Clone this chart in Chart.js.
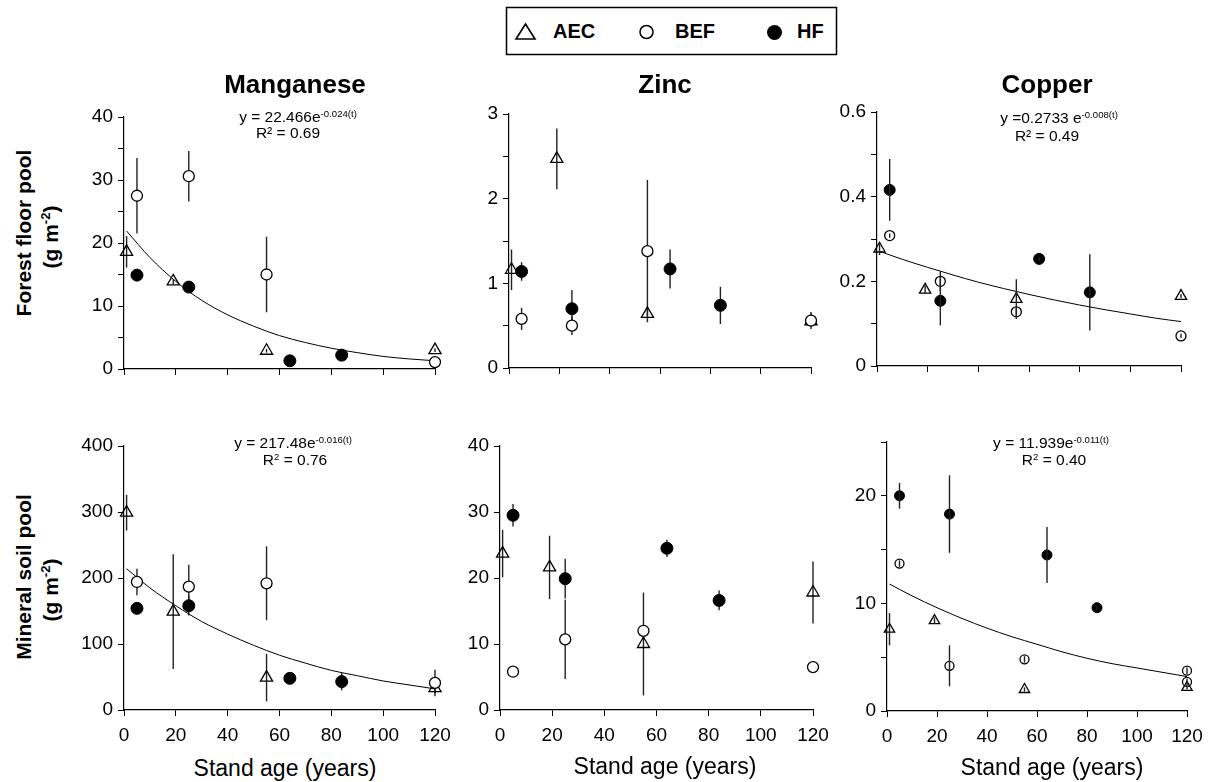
<!DOCTYPE html>
<html>
<head>
<meta charset="utf-8">
<script src="https://cdn.jsdelivr.net/npm/chart.js@4.4.0/dist/chart.umd.min.js"></script>
<style>
  body { margin: 0; width: 1215px; height: 782px; position: relative; overflow: hidden; background: #fff;
         font-family: 'Liberation Sans', Arial, sans-serif; color: #000; }
  canvas.panel { position: absolute; }
  .t { position: absolute; white-space: nowrap; line-height: 1; transform: translateX(-50%); }
  .t sup { font-size: 0.62em; line-height: 0; vertical-align: 0.55em; }
  .v { position: absolute; white-space: nowrap; line-height: 1; font-weight: bold;
       transform: translate(-50%, -50%) rotate(-90deg); }
  .v sup { font-size: 0.62em; line-height: 0; vertical-align: 0.55em; }
</style>
</head>
<body>
<svg width="1215" height="60" style="position:absolute;left:0;top:0" font-family="'Liberation Sans', Arial, sans-serif">
  <rect x="506.5" y="7.5" width="330" height="47" fill="none" stroke="#000" stroke-width="1.5"/>
  <polygon points="516,39 525.5,24 535,39" fill="none" stroke="#000" stroke-width="1.6"/>
  <text x="553" y="38" font-size="20" font-weight="bold">AEC</text>
  <circle cx="646.5" cy="32" r="6.5" fill="none" stroke="#000" stroke-width="1.5"/>
  <text x="675" y="38" font-size="20" font-weight="bold">BEF</text>
  <circle cx="774.5" cy="32.5" r="7.5" fill="#000"/>
  <text x="797" y="38" font-size="20" font-weight="bold">HF</text>
</svg>
<script>
const FONT = "'Liberation Sans', Arial, sans-serif";

// stand ages of the sites (years)
const ageAEC = [1, 19, 55, 120];
const ageBEF = [5, 25, 55, 120];
const ageBEFcu = [5, 25, 55, 120, 120];
const ageHF = [5, 25, 64, 84];
const fitAge = [1, 10, 20, 30, 40, 50, 60, 70, 80, 90, 100, 110, 120];

// Manganese, forest floor (g m-2)
const mnFloorAEC = [18.6, 13.9, 2.9, 3.0];
const mnFloorAECerr = [2.5, 0.4, 0.3, 0.3];
const mnFloorBEF = [27.5, 30.6, 15.0, 1.1];
const mnFloorBEFerr = [6.0, 4.0, 6.0, 0.3];
const mnFloorHF = [14.9, 13.0, 1.3, 2.2];
const mnFloorHFerr = [0.6, 0.5, 0.3, 0.6];
const mnFloorFit = [21.9, 17.7, 13.9, 10.9, 8.6, 6.8, 5.3, 4.2, 3.3, 2.6, 2.0, 1.6, 1.3];

// Zinc, forest floor
const znFloorAEC = [1.16, 2.47, 0.64, 0.55];
const znFloorAECerr = [0.24, 0.36, 0.05, 0.05];
const znFloorBEF = [0.58, 0.50, 1.38, 0.56];
const znFloorBEFerr = [0.13, 0.11, 0.84, 0.1];
const znFloorHF = [1.14, 0.70, 1.17, 0.74];
const znFloorHFerr = [0.11, 0.22, 0.23, 0.22];

// Copper, forest floor
const cuFloorAEC = [0.277, 0.18, 0.158, 0.165];
const cuFloorAECerr = [0.015, 0.01, 0.047, 0.005];
const cuFloorBEF = [0.308, 0.20, 0.128, 0.071];
const cuFloorBEFerr = [0.005, 0.023, 0.01, 0.005];
const cuFloorHF = [0.416, 0.154, 0.253, 0.174];
const cuFloorHFerr = [0.073, 0.058, 0.005, 0.09];
const cuFloorFit = [0.271, 0.252, 0.233, 0.215, 0.198, 0.183, 0.169, 0.156, 0.144, 0.133, 0.123, 0.113, 0.105];

// Manganese, mineral soil
const mnSoilAEC = [299, 149, 49, 33];
const mnSoilAECerr = [27, 87, 36, 8];
const mnSoilBEF = [194, 187, 192, 41];
const mnSoilBEFerr = [20, 33, 56, 20];
const mnSoilHF = [154, 158, 48, 43];
const mnSoilHFerr = [8, 15, 3, 13];
const mnSoilFit = [214, 185, 158, 134, 115, 98, 83, 71, 60, 52, 44, 38, 32];

// Zinc, mineral soil
const znSoilAEC = [23.7, 21.6, 10.0, 17.8];
const znSoilAECerr = [3.6, 4.8, 7.8, 4.7];
const znSoilBEF = [5.8, 10.7, 12.0, 6.5];
const znSoilBEFerr = [0.4, 6.0, 0.5, 0.6];
const znSoilHF = [29.5, 19.9, 24.5, 16.6];
const znSoilHFerr = [1.7, 3.0, 1.3, 1.5];

// Copper, mineral soil
const cuSoilAEC = [7.6, 8.4, 2.0, 2.2];
const cuSoilAECerr = [1.5, 0.3, 0.2, 0.2];
const cuSoilBEF = [13.7, 4.2, 4.8, 3.75, 2.7];
const cuSoilBEFerr = [0.3, 1.9, 0.3, 0.3, 0.3];
const cuSoilHF = [20.0, 18.3, 14.5, 9.6];
const cuSoilHFerr = [1.2, 3.6, 2.6, 0.2];
const cuSoilFit = [11.8, 10.7, 9.6, 8.6, 7.7, 6.9, 6.2, 5.5, 4.9, 4.4, 4.0, 3.6, 3.2];

const xTickStep = 20;

function drawBars(chart) {
    const { ctx, scales: { x, y } } = chart;
    ctx.save();
    ctx.strokeStyle = '#222';
    ctx.lineWidth = 1.4;
    chart.data.datasets.forEach(ds => {
        if (!ds.errors) return;
        ds.data.forEach((p, i) => {
            const e = ds.errors[i];
            if (!e) return;
            const px = x.getPixelForValue(p.x);
            ctx.beginPath();
            ctx.moveTo(px, y.getPixelForValue(p.y + e));
            ctx.lineTo(px, y.getPixelForValue(Math.max(0, p.y - e)));
            ctx.stroke();
        });
    });
    ctx.restore();
}

const errorBars = {
    id: 'errorBars',
    beforeDatasetsDraw(chart, args, opts) { if (!opts.onTop) drawBars(chart); },
    afterDatasetsDraw(chart, args, opts) { if (opts.onTop) drawBars(chart); }
};

const pts = (ages, vals) => ages.map((a, i) => ({ x: a, y: vals[i] }));

const PAD_L = 60, PAD_T = 20, PAD_R = 30, PAD_B = 40;

function makePanel(p) {
    const [L, T, R, B] = p.box;
    const cv = document.createElement('canvas');
    cv.className = 'panel';
    cv.width = R - L + PAD_L + PAD_R;
    cv.height = B - T + PAD_T + PAD_B;
    cv.style.left = (L - PAD_L) + 'px';
    cv.style.top = (T - PAD_T) + 'px';
    document.body.appendChild(cv);

    const circleFill = p.thinCircles ? 'rgba(255,255,255,0)' : '#fff';
    const datasets = [
        { data: pts(ageHF, p.hf), errors: p.hfErr, pointStyle: 'circle', pointRadius: p.r + 0.5,
          backgroundColor: '#000', borderColor: '#000', borderWidth: 1, clip: false },
        { data: pts(p.befAge || ageBEF, p.bef), errors: p.befErr, pointStyle: 'circle', pointRadius: p.r,
          backgroundColor: circleFill, borderColor: '#000', borderWidth: 1.3, clip: false },
        { data: pts(ageAEC, p.aec), errors: p.aecErr, pointStyle: 'triangle', pointRadius: p.r + 1.5,
          backgroundColor: 'rgba(255,255,255,0)', borderColor: '#000', borderWidth: 1.3, clip: false }
    ];
    if (p.fit) {
        datasets.push({ data: pts(fitAge, p.fit), showLine: true, pointRadius: 0, borderColor: '#000',
                        borderWidth: 1, cubicInterpolationMode: 'monotone', clip: false });
    }

    const isMajor = v => Math.abs(v / p.yLabel - Math.round(v / p.yLabel)) < 1e-6;

    new Chart(cv, {
        type: 'scatter',
        data: { datasets },
        plugins: [errorBars],
        options: {
            responsive: false,
            animation: false,
            layout: { padding: { top: PAD_T, right: PAD_R, left: 0, bottom: 0 } },
            plugins: { legend: { display: false }, tooltip: { enabled: false },
                       errorBars: { onTop: !!p.thinCircles } },
            scales: {
                x: {
                    type: 'linear', min: 0, max: 120,
                    afterFit: s => { s.height = PAD_B; },
                    grid: { drawOnChartArea: false, tickLength: 6, color: '#000' },
                    border: { color: '#000', width: 1.2 },
                    ticks: { stepSize: xTickStep, autoSkip: false, maxRotation: 0, padding: 8, color: '#000',
                             font: { family: FONT, size: 19 }, callback: v => p.xLabels ? v : '' }
                },
                y: {
                    min: 0, max: p.yMax,
                    afterFit: s => { s.width = PAD_L; },
                    grid: { drawOnChartArea: false, tickLength: 6, color: '#000' },
                    border: { color: '#000', width: 1.2 },
                    ticks: { stepSize: p.yStep, autoSkip: false, padding: 5, color: '#000',
                             font: { family: FONT, size: 19 },
                             callback: v => isMajor(v) ? String(+v.toFixed(2)) : '' }
                }
            }
        }
    });
}

makePanel({ box: [124, 117, 435, 369], yMax: 40, yStep: 5, yLabel: 10, r: 5.5,
            aec: mnFloorAEC, aecErr: mnFloorAECerr, bef: mnFloorBEF, befErr: mnFloorBEFerr,
            hf: mnFloorHF, hfErr: mnFloorHFerr, fit: mnFloorFit });
makePanel({ box: [509, 114, 811, 368], yMax: 3, yStep: 0.5, yLabel: 1, r: 5.5,
            aec: znFloorAEC, aecErr: znFloorAECerr, bef: znFloorBEF, befErr: znFloorBEFerr,
            hf: znFloorHF, hfErr: znFloorHFerr });
makePanel({ box: [877, 112, 1181, 366], yMax: 0.6, yStep: 0.1, yLabel: 0.2, r: 5, thinCircles: true,
            aec: cuFloorAEC, aecErr: cuFloorAECerr, bef: cuFloorBEF, befErr: cuFloorBEFerr,
            hf: cuFloorHF, hfErr: cuFloorHFerr, fit: cuFloorFit });
makePanel({ box: [124, 446, 435, 710], yMax: 400, yStep: 100, yLabel: 100, r: 5.5, xLabels: true,
            aec: mnSoilAEC, aecErr: mnSoilAECerr, bef: mnSoilBEF, befErr: mnSoilBEFerr,
            hf: mnSoilHF, hfErr: mnSoilHFerr, fit: mnSoilFit });
makePanel({ box: [500, 446, 813, 710], yMax: 40, yStep: 10, yLabel: 10, r: 5.5, xLabels: true,
            aec: znSoilAEC, aecErr: znSoilAECerr, bef: znSoilBEF, befErr: znSoilBEFerr,
            hf: znSoilHF, hfErr: znSoilHFerr });
makePanel({ box: [887, 442, 1187, 711], yMax: 25, yStep: 5, yLabel: 10, r: 4.5, xLabels: true, thinCircles: true,
            aec: cuSoilAEC, aecErr: cuSoilAECerr, bef: cuSoilBEF, befErr: cuSoilBEFerr, befAge: ageBEFcu,
            hf: cuSoilHF, hfErr: cuSoilHFerr, fit: cuSoilFit });

function label(html, cx, baseline, size, bold) {
    const d = document.createElement('div');
    d.className = 't';
    d.innerHTML = html;
    d.style.left = cx + 'px';
    d.style.top = (baseline - 0.8465 * size) + 'px';
    d.style.fontSize = size + 'px';
    if (bold) d.style.fontWeight = 'bold';
    document.body.appendChild(d);
}

function vlabel(html, cx, cy, size) {
    const d = document.createElement('div');
    d.className = 'v';
    d.innerHTML = html;
    d.style.left = cx + 'px';
    d.style.top = cy + 'px';
    d.style.fontSize = size + 'px';
    document.body.appendChild(d);
}

label('Manganese', 295, 93, 26, true);
label('Zinc', 665, 93, 26, true);
label('Copper', 1047, 93, 26, true);

label('y = 22.466e<sup>-0.024(t)</sup>', 298, 122, 15.5);
label('R² = 0.69', 288, 138, 15.5);
label('y =0.2733 e<sup>-0.008(t)</sup>', 1059, 123, 15.5);
label('R² = 0.49', 1047, 141, 15.5);
label('y = 217.48e<sup>-0.016(t)</sup>', 293, 448, 15.5);
label('R<sup>2</sup> = 0.76', 295, 465, 15.5);
label('y = 11.939e<sup>-0.011(t)</sup>', 1051, 448, 15.5);
label('R<sup>2</sup> = 0.40', 1054, 465, 15.5);

label('Stand age (years)', 285, 776, 23);
label('Stand age (years)', 665, 774, 23);
label('Stand age (years)', 1052, 775, 23);

vlabel('Forest floor pool', 23, 233, 21);
vlabel('(g m<sup>-2</sup>)', 50, 237, 21);
vlabel('Mineral soil pool', 23, 577, 21);
vlabel('(g m<sup>-2</sup>)', 50, 590, 21);
</script>
</body>
</html>
